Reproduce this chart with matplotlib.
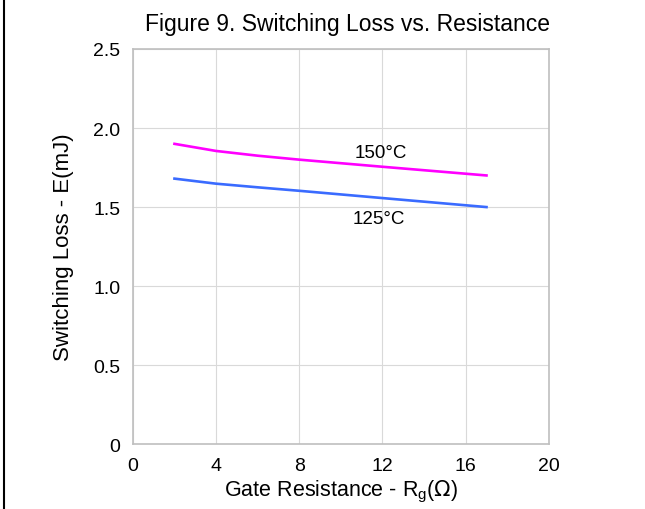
import matplotlib
matplotlib.use("Agg")
import matplotlib.pyplot as plt
from matplotlib.lines import Line2D

plt.rcParams['font.family'] = ['Liberation Sans', 'DejaVu Sans']

rg = [2, 4, 6, 8, 12, 17]
loss_150 = [1.90, 1.855, 1.825, 1.80, 1.755, 1.70]
loss_125 = [1.68, 1.648, 1.625, 1.603, 1.557, 1.50]
xticks = [0, 4, 8, 12, 16, 20]
yticks = [0, 0.5, 1.0, 1.5, 2.0, 2.5]
ytick_labels = ['0', '0.5', '1.0', '1.5', '2.0', '2.5']

fig = plt.figure(figsize=(6.45, 5.1), dpi=100)
ax = fig.add_axes([0.206, 0.127, 0.645, 0.775])

ax.plot(rg, loss_150, color='#ff00ff', lw=1.9)
ax.plot(rg, loss_125, color='#3a6bff', lw=1.9)

ax.set_xlim(0, 20)
ax.set_ylim(0, 2.5)
ax.set_xticks(xticks)
ax.set_yticks(yticks)
ax.set_yticklabels(ytick_labels)
ax.tick_params(length=0, labelsize=14, pad=9)
ax.grid(True, color='#d9d9d9', lw=0.8)
ax.set_axisbelow(True)
for s in ax.spines.values():
    s.set_color('#bfbfbf')
    s.set_linewidth(1.2)

ax.text(11.9, 1.845, '150°C', fontsize=13.5, ha='center', va='center')
ax.text(11.8, 1.43, '125°C', fontsize=13.5, ha='center', va='center')

ax.set_title('Figure 9. Switching Loss vs. Resistance', fontsize=16.5, pad=14, x=0.517)
ax.set_xlabel(r'Gate Resistance - R$_\mathregular{g}$($\Omega$)', fontsize=15.5, labelpad=3)
ax.set_ylabel('Switching Loss - E(mJ)', fontsize=16, labelpad=14)

fig.add_artist(Line2D([0.0065, 0.0065], [0, 1], color='black', lw=1.5))

fig.savefig('out.png', dpi=100)
